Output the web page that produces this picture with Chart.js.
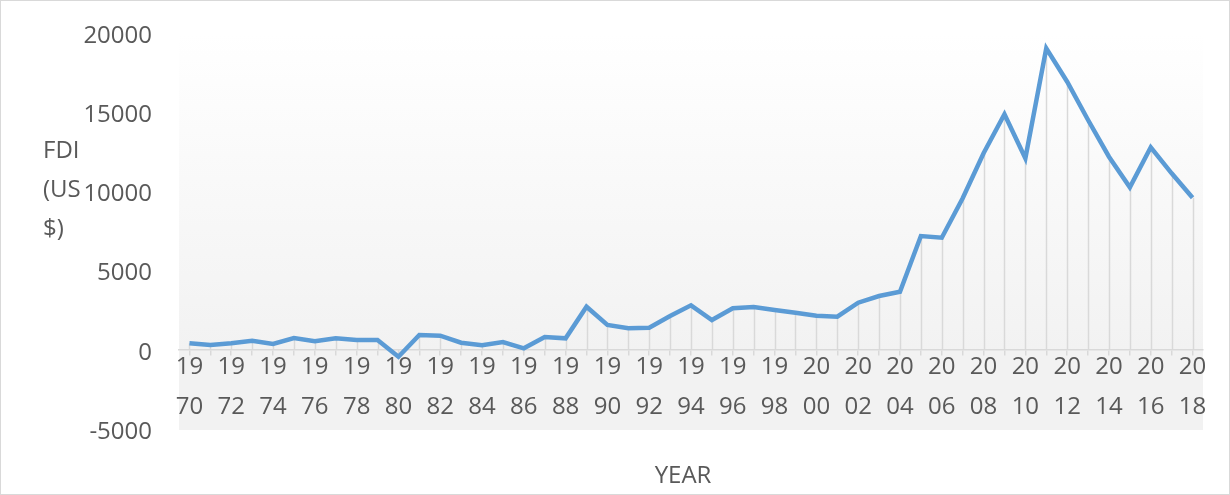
<!DOCTYPE html>
<html>
<head>
<meta charset="utf-8">
<script src="https://cdn.jsdelivr.net/npm/chart.js@4.4.0/dist/chart.umd.min.js"></script>
<style>
  html, body { margin: 0; padding: 0; background: #fff; }
  #wrap { position: relative; width: 1230px; height: 495px; box-sizing: border-box; border: 1px solid #d9d9d9; }
  #chart { position: absolute; left: -1px; top: -1px; }
</style>
</head>
<body>
<div id="wrap"><canvas id="chart" width="1230" height="495"></canvas></div>
<script>
// years on the category axis
var years = [];
for (var y = 1970; y <= 2018; y++) years.push(String(y));

// FDI inflows, US$
var fdi = [410, 303, 410, 575, 366, 745, 537, 726, 619, 619,
           -436, 934, 890, 448, 284, 492, 95, 808, 726, 2721,
           1566, 1357, 1395, 2134, 2809, 1881, 2620, 2702, 2513, 2342,
           2153, 2090, 2973, 3396, 3668, 7184, 7077, 9564, 12405, 14867,
           12090, 19034, 16926, 14508, 12191, 10259, 12784, 11143, 9602];

var yTicks = [-5000, 0, 5000, 10000, 15000, 20000];
var yTitle = ["FDI", "(US", "$)"];
var xTitle = "YEAR";

var fontFam = "'Open Sans', sans-serif";
var textCol = "#595959";

// plot area gradient
var bgPlugin = {
  id: "plotBg",
  beforeDraw: function(chart) {
    var a = chart.chartArea, c = chart.ctx;
    var zero = chart.scales.y.getPixelForValue(0);
    var g = c.createLinearGradient(0, a.top, 0, zero);
    g.addColorStop(0, "#ffffff");
    g.addColorStop(1, "#f2f2f2");
    c.save();
    c.fillStyle = g;
    c.fillRect(a.left, a.top - 3, a.right - a.left, zero - a.top + 3);
    c.fillStyle = "#f2f2f2";
    c.fillRect(a.left, zero, a.right - a.left, a.bottom - zero + 1);
    c.restore();
  }
};

// drop lines from each point to the zero axis
var dropPlugin = {
  id: "dropLines",
  beforeDatasetsDraw: function(chart) {
    var c = chart.ctx;
    var zero = chart.scales.y.getPixelForValue(0);
    var pts = chart.getDatasetMeta(0).data;
    c.save();
    c.strokeStyle = "#d9d9d9";
    c.lineWidth = 1.5;
    pts.forEach(function(p) {
      c.beginPath();
      c.moveTo(Math.round(p.x) + 0.5, p.y);
      c.lineTo(Math.round(p.x) + 0.5, zero);
      c.stroke();
    });
    c.restore();
  }
};

// axis titles placed like the original
var titlePlugin = {
  id: "axisTitles",
  afterDraw: function(chart) {
    var c = chart.ctx, a = chart.chartArea;
    c.save();
    c.fillStyle = textCol;
    c.font = "24px " + fontFam;
    c.textBaseline = "middle";
    c.textAlign = "left";
    for (var i = 0; i < yTitle.length; i++) {
      c.fillText(yTitle[i], 43, 151 + i * 39);
    }
    c.textAlign = "center";
    c.fillText(xTitle, (a.left + a.right) / 2 - 8, 476);
    c.restore();
  }
};

new Chart(document.getElementById("chart"), {
  type: "line",
  data: {
    labels: years,
    datasets: [{
      data: fdi,
      borderColor: "#5b9bd5",
      borderWidth: 4.5,
      pointRadius: 0,
      tension: 0,
      fill: false
    }]
  },
  options: {
    responsive: false,
    animation: false,
    layout: { padding: { left: 0, right: 27, top: 33, bottom: 66 } },
    plugins: { legend: { display: false }, tooltip: { enabled: false } },
    scales: {
      x: {
        type: "category",
        position: { y: 0 },
        offset: true,
        afterFit: function(s) {
          s.paddingTop = 0; s.paddingBottom = 0;
          s.paddingLeft = 0; s.paddingRight = 0;
        },
        grid: {
          offset: false,
          drawOnChartArea: false,
          drawTicks: true,
          tickLength: 5,
          color: "#d9d9d9",
          lineWidth: 1.5
        },
        border: { display: true, color: "#d9d9d9", width: 1.5 },
        ticks: {
          autoSkip: false,
          maxRotation: 0,
          padding: -8,
          color: textCol,
          font: { family: fontFam, size: 24, lineHeight: 1.67 },
          callback: function(v, i) {
            var s = years[i];
            return (i % 2 === 0) ? [s.slice(0, 2), s.slice(2)] : "";
          }
        }
      },
      y: {
        min: -5000,
        max: 20000,
        afterFit: function(s) {
          s.width = 179;
          s.paddingTop = 0; s.paddingBottom = 0;
        },
        afterBuildTicks: function(s) { s.ticks = yTicks.map(function(v) { return { value: v }; }); },
        grid: { display: false, drawTicks: false },
        border: { display: false },
        ticks: {
          padding: 27,
          labelOffset: 3,
          color: textCol,
          font: { family: fontFam, size: 24 },
          callback: function(v) { return String(v); }
        }
      }
    }
  },
  plugins: [bgPlugin, dropPlugin, titlePlugin]
});
</script>
</body>
</html>
